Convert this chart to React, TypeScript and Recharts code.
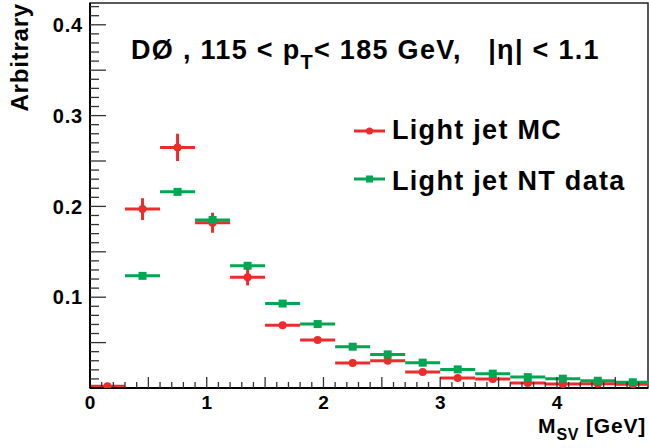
import { ScatterChart, Scatter, XAxis, YAxis, ErrorBar, Legend, ReferenceArea } from "recharts";

// bin centres (0.3 GeV bins)
const mcBins = [0.15, 0.45, 0.75, 1.05, 1.35, 1.65, 1.95, 2.25, 2.55, 2.85, 3.15, 3.45, 3.75, 4.05, 4.35, 4.65];
const mcValues = [0.002, 0.197, 0.265, 0.182, 0.122, 0.069, 0.053, 0.0275, 0.030, 0.0176, 0.011, 0.010, 0.0055, 0.0044, 0.0048, 0.004];
const mcErrors = [0.001, 0.012, 0.015, 0.011, 0.009, 0.002, 0.002, 0.0015, 0.0015, 0.001, 0.001, 0.001, 0.0008, 0.0008, 0.0008, 0.0008];

const ntBins = [0.45, 0.75, 1.05, 1.35, 1.65, 1.95, 2.25, 2.55, 2.85, 3.15, 3.45, 3.75, 4.05, 4.35, 4.65];
const ntValues = [0.1235, 0.216, 0.185, 0.1346, 0.093, 0.0704, 0.0455, 0.037, 0.0279, 0.0205, 0.0158, 0.012, 0.0103, 0.008, 0.0063];
const ntErrors = [0.001, 0.0012, 0.0012, 0.001, 0.001, 0.0008, 0.0007, 0.0006, 0.0005, 0.0005, 0.0004, 0.0004, 0.0004, 0.0003, 0.0003];

const halfBin = 0.15;

const xMajorLabels = [0, 1, 2, 3, 4];
const yMajorLabels = [0.1, 0.2, 0.3, 0.4];

const X_MAX = 4.78;
const Y_MAX = 0.424;

const RED = "#ec2c2c";
const GREEN = "#00a651";
const FONT = "'Liberation Sans', Arial, Helvetica, sans-serif";

const mcData = mcBins.map((x, i) => ({ x, y: mcValues[i], ex: halfBin, ey: mcErrors[i] }));
const ntData = ntBins.map((x, i) => ({ x, y: ntValues[i], ex: halfBin, ey: ntErrors[i] }));

// minor ticks every 0.1 GeV / 0.01
const xTicks: number[] = [];
for (let i = 0; i <= 47; i++) xTicks.push(i / 10);
const yTicks: number[] = [];
for (let i = 0; i <= 42; i++) yTicks.push(i / 100);

const isMajor = (v: number, list: number[]) => list.some((m) => Math.abs(m - v) < 1e-6);

const XTick = (props: any) => {
  const { x, y, payload } = props;
  const v = payload.value;
  const k = Math.round(v * 10);
  const len = k % 5 === 0 ? 11 : 6;
  return (
    <g>
      {v > 0 && <line x1={x} x2={x} y1={y} y2={y - len} stroke="#333" strokeWidth={1.3} />}
      {isMajor(v, xMajorLabels) && (
        <text x={x} y={y + 21} textAnchor="middle" fontSize={19} fontWeight="bold" fontFamily={FONT} fill="#000">
          {v}
        </text>
      )}
    </g>
  );
};

const YTick = (props: any) => {
  const { x, y, payload } = props;
  const v = payload.value;
  const k = Math.round(v * 100);
  const len = k % 5 === 0 ? 16 : 9;
  return (
    <g>
      {v > 0 && <line x1={x} x2={x + len} y1={y} y2={y} stroke="#333" strokeWidth={1.3} />}
      {isMajor(v, yMajorLabels) && (
        <text x={x - 7} y={y} dy="0.36em" textAnchor="end" fontSize={20} fontWeight="bold" fontFamily={FONT} fill="#000" letterSpacing={0.8}>
          {v.toFixed(1)}
        </text>
      )}
    </g>
  );
};

const Circle = (props: any) => <circle cx={props.cx} cy={props.cy} r={4} fill={RED} />;
const Square = (props: any) => <rect x={props.cx - 4} y={props.cy - 4} width={8} height={8} fill={GREEN} />;

const LegendContent = () => (
  <svg width={300} height={100} style={{ display: "block" }}>
    <line x1={2} x2={33} y1={26} y2={26} stroke={RED} strokeWidth={3} />
    <circle cx={17.5} cy={26} r={3.5} fill={RED} />
    <text x={40} y={34} fontSize={27} fontWeight="bold" fontFamily={FONT} fill="#000" letterSpacing={1.3}>Light jet MC</text>
    <line x1={2} x2={33} y1={74} y2={74} stroke={GREEN} strokeWidth={3} />
    <rect x={14} y={70.5} width={7} height={7} fill={GREEN} />
    <text x={40} y={85} fontSize={27} fontWeight="bold" fontFamily={FONT} fill="#000" letterSpacing={1.3}>Light jet NT data</text>
  </svg>
);

export default function App() {
  return (
    <div style={{ position: "absolute", left: 0, top: 0, width: 649, height: 448, background: "#fff" }}>
      <ScatterChart width={649} height={448} margin={{ top: 3, right: 1, bottom: 0, left: 0 }}>
        <XAxis
          type="number"
          dataKey="x"
          domain={[0, X_MAX]}
          ticks={xTicks}
          interval={0}
          tick={XTick}
          tickLine={false}
          tickSize={0}
          tickMargin={0}
          height={60}
          axisLine={{ stroke: "#000", strokeWidth: 2 }}
          allowDataOverflow
        />
        <YAxis
          type="number"
          dataKey="y"
          domain={[0, Y_MAX]}
          ticks={yTicks}
          interval={0}
          tick={YTick}
          tickLine={false}
          tickSize={0}
          tickMargin={0}
          width={90}
          axisLine={{ stroke: "#000", strokeWidth: 2 }}
          allowDataOverflow
        />
        <ReferenceArea x1={0} x2={X_MAX} y1={0} y2={Y_MAX} fill="none" stroke="#222" strokeWidth={1.5} />
        <Legend
          layout="vertical"
          align="center"
          verticalAlign="middle"
          content={LegendContent}
          wrapperStyle={{ position: "absolute", left: 352, top: 105, width: 300, height: 100 }}
        />
        <Scatter name="Light jet MC" data={mcData} fill={RED} shape={Circle} isAnimationActive={false}>
          <ErrorBar dataKey="ex" direction="x" width={0} stroke={RED} strokeWidth={3} isAnimationActive={false} />
          <ErrorBar dataKey="ey" direction="y" width={0} stroke={RED} strokeWidth={3} isAnimationActive={false} />
        </Scatter>
        <Scatter name="Light jet NT data" data={ntData} fill={GREEN} shape={Square} isAnimationActive={false}>
          <ErrorBar dataKey="ex" direction="x" width={0} stroke={GREEN} strokeWidth={3} isAnimationActive={false} />
          <ErrorBar dataKey="ey" direction="y" width={0} stroke={GREEN} strokeWidth={3} isAnimationActive={false} />
        </Scatter>
      </ScatterChart>
      <svg width={649} height={448} style={{ position: "absolute", left: 0, top: 0, pointerEvents: "none" }}>
        <text x={131} y={58.5} fontSize={27} fontWeight="bold" fontFamily={FONT} fill="#000" letterSpacing={1.3} style={{ whiteSpace: "pre" }}>
          DØ , 115 &lt; p<tspan dy={10} fontSize={20}>T</tspan><tspan dy={-10}>&lt; 185 GeV,   |η| &lt; 1.1</tspan>
        </text>
        <text transform="translate(28,3) rotate(-90)" textAnchor="end" fontSize={24} fontWeight="bold" fontFamily={FONT} fill="#000" letterSpacing={0.8}>
          Arbitrary
        </text>
        <text x={646} y={433} textAnchor="end" fontSize={21} fontWeight="bold" fontFamily={FONT} fill="#000" letterSpacing={0.8}>
          M<tspan dy={7} fontSize={16}>SV</tspan><tspan dy={-7}> [GeV]</tspan>
        </text>
      </svg>
    </div>
  );
}
